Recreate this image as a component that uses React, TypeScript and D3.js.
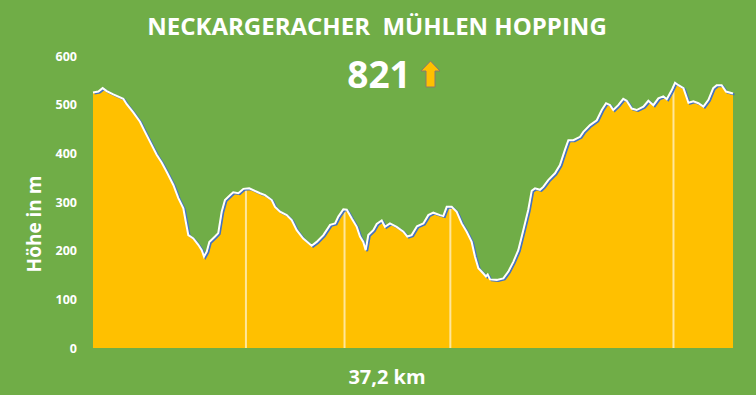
import React from "react";
import * as d3 from "d3";

const TITLE = "NECKARGERACHER  MÜHLEN HOPPING";
const ASCENT_LABEL = "821";
const X_LABEL = "37,2 km";
const Y_LABEL = "Höhe in m";
const TOTAL_KM = 37.2;
const Y_TICKS = [0, 100, 200, 300, 400, 500, 600];

const distanceKm = [
  0, 0.31, 0.56, 0.8, 1.18, 1.76, 1.96, 2.34, 2.73, 3.02, 3.31, 3.7, 3.99, 4.28, 4.67, 4.96,
  5.25, 5.39, 5.54, 5.83, 6.12, 6.32, 6.45, 6.61, 6.76, 7.09, 7.28, 7.48, 7.67, 7.96, 8.15,
  8.45, 8.74, 9.08, 9.52, 9.71, 10.0, 10.39, 10.58, 10.87, 11.26, 11.55, 11.84, 12.22, 12.71,
  13.0, 13.39, 13.78, 14.07, 14.26, 14.55, 14.75, 15.04, 15.33, 15.52, 15.71, 15.85, 16.0,
  16.29, 16.49, 16.78, 16.97, 17.26, 17.65, 18.04, 18.27, 18.52, 18.83, 19.2, 19.49, 19.78,
  20.17, 20.36, 20.56, 20.85, 21.14, 21.43, 21.72, 22.01, 22.2, 22.4, 22.69, 22.84, 22.94,
  23.08, 23.47, 23.85, 24.14, 24.43, 24.72, 25.01, 25.3, 25.5, 25.69, 25.98, 26.17, 26.46,
  26.85, 27.14, 27.43, 27.63, 27.92, 28.31, 28.5, 28.89, 29.28, 29.57, 29.82, 30.05, 30.24,
  30.53, 30.82, 31.02, 31.31, 31.6, 31.99, 32.28, 32.57, 32.86, 33.15, 33.35, 33.64, 33.83,
  34.03, 34.32, 34.61, 34.9, 35.19, 35.48, 35.77, 36.05, 36.25, 36.54, 36.79, 37.2,
];

const elevationM = [
  525, 527, 534, 528, 521, 512, 501, 484, 465, 444, 424, 397, 381, 362, 335, 308,
  287, 260, 232, 225, 212, 201, 188, 198, 218, 229, 236, 280, 304, 314, 320,
  318, 327, 328, 321, 318, 314, 304, 290, 280, 273, 263, 242, 225, 210,
  218, 232, 253, 256, 270, 285, 284, 266, 249, 229, 218, 201, 232,
  242, 255, 262, 249, 256, 249, 239, 229, 232, 250, 256, 273, 278,
  273, 271, 290, 290, 280, 256, 239, 218, 188, 164, 153, 147, 151,
  141, 140, 143, 157, 177, 201, 242, 284, 323, 328, 325, 331, 345,
  359, 376, 407, 427, 427, 434, 444, 458, 468, 489, 503, 499, 489,
  499, 512, 508, 492, 489, 496, 508, 499, 513, 517, 511, 530, 545,
  540, 534, 504, 507, 503, 496, 510, 534, 540, 540, 527, 523,
];

const millKm = [8.89, 14.62, 20.77, 33.74];

const W = 756;
const H = 395;
const PLOT = { left: 93, right: 733, top: 56, bottom: 348 };

export default function App() {
  const x = d3.scaleLinear().domain([0, TOTAL_KM]).range([PLOT.left, PLOT.right]);
  const y = d3.scaleLinear().domain([0, 600]).range([PLOT.bottom, PLOT.top]);
  const data = distanceKm.map((d, i) => ({ d, e: elevationM[i] }));

  const area = d3
    .area<{ d: number; e: number }>()
    .x((p) => x(p.d))
    .y0(y(0))
    .y1((p) => y(p.e));
  const line = d3
    .line<{ d: number; e: number }>()
    .x((p) => x(p.d))
    .y((p) => y(p.e));

  const elevAt = (k: number) => {
    const j = d3.bisectLeft(distanceKm, k);
    const a = data[Math.max(0, j - 1)];
    const b = data[Math.min(data.length - 1, j)];
    const t = b.d === a.d ? 0 : (k - a.d) / (b.d - a.d);
    return a.e + t * (b.e - a.e);
  };

  const font = "'Open Sans', 'Liberation Sans', sans-serif";
  const ax = 430.5;

  return (
    <svg
      width={W}
      height={H}
      style={{ position: "absolute", left: 0, top: 0, display: "block" }}
    >
      <rect x={0} y={0} width={W} height={H} fill="#70AD47" />
      <text
        x={377}
        y={35}
        textAnchor="middle"
        fill="#fff"
        fontFamily={font}
        fontWeight={700}
        fontSize={24}
        style={{ whiteSpace: "pre" }}
      >
        {TITLE}
      </text>
      <text
        x={379}
        y={88}
        textAnchor="middle"
        fill="#fff"
        fontFamily={font}
        fontWeight={700}
        fontSize={37}
      >
        {ASCENT_LABEL}
      </text>
      <path
        d={`M${ax},61 L${ax + 9.5},71 L${ax + 4.5},71 L${ax + 4.5},87 L${ax - 4.5},87 L${ax - 4.5},71 L${ax - 9.5},71 Z`}
        fill="#FFC000"
        stroke="#8C7A6B"
        strokeWidth={1}
      />
      <path d={area(data) || ""} fill="#FFC000" />
      {millKm.map((k, i) => (
        <line
          key={i}
          x1={x(k)}
          x2={x(k)}
          y1={y(0)}
          y2={y(elevAt(k))}
          stroke="#FFE699"
          strokeWidth={2}
        />
      ))}
      <path
        d={line(data) || ""}
        fill="none"
        stroke="#4472C4"
        strokeWidth={2}
        transform="translate(1.5,1)"
      />
      <path d={line(data) || ""} fill="none" stroke="#fff" strokeWidth={2} />
      {Y_TICKS.map((t) => (
        <text
          key={t}
          x={77}
          y={y(t) + 4.5}
          textAnchor="end"
          fill="#fff"
          fontFamily={font}
          fontWeight={700}
          fontSize={12.5}
        >
          {t}
        </text>
      ))}
      <text
        transform={`translate(41,224) rotate(-90)`}
        textAnchor="middle"
        fill="#fff"
        fontFamily={font}
        fontWeight={700}
        fontSize={19}
      >
        {Y_LABEL}
      </text>
      <text
        x={387}
        y={384}
        textAnchor="middle"
        fill="#fff"
        fontFamily={font}
        fontWeight={700}
        fontSize={20}
      >
        {X_LABEL}
      </text>
    </svg>
  );
}
